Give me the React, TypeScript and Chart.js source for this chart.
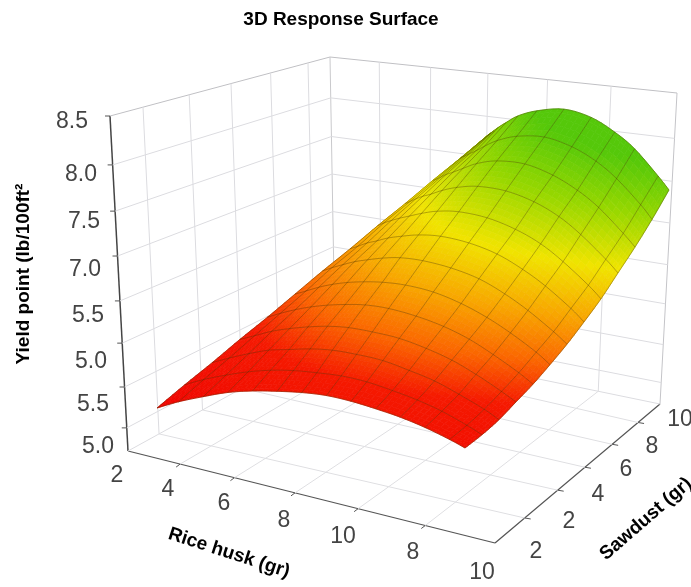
import React, { useEffect, useRef } from "react";
import { Chart, registerables } from "chart.js";

Chart.register(...registerables);

// ---- data ----
const yieldTickLabels = ["5.0", "5.5", "5.0", "5.5", "7.0", "7.5", "8.0", "8.5"];
const riceHuskTickLabels = ["2", "4", "6", "8", "10", "8", "10"];
const sawdustTickLabels = ["2", "2", "4", "6", "8", "10"];

// surface mesh steps (fraction of each surface side)
const riceHuskFront = [0, 0.07, 0.15, 0.23, 0.31, 0.39, 0.47, 0.55, 0.63, 0.71, 0.79, 0.87, 0.95, 1];
const riceHuskBack = [0, 0.006, 0.016, 0.032, 0.058, 0.1, 0.165, 0.27, 0.42, 0.57, 0.7, 0.81, 0.94, 1];
const sawdustSteps = [0, 1 / 12, 2 / 12, 3 / 12, 4 / 12, 5 / 12, 6 / 12, 7 / 12, 8 / 12, 9 / 12, 10 / 12, 11 / 12, 1];

// yield point, one row per sawdust step
const yieldRow0 = [5.55, 5.64, 5.72, 5.79, 5.83, 5.85, 5.86, 5.85, 5.81, 5.75, 5.68, 5.59, 5.48, 5.4];
const yieldRow1 = [5.75, 5.83, 5.9, 5.96, 6.0, 6.02, 6.02, 6.01, 5.97, 5.9, 5.82, 5.72, 5.59, 5.5];
const yieldRow2 = [5.94, 6.01, 6.08, 6.14, 6.17, 6.2, 6.21, 6.19, 6.15, 6.07, 5.98, 5.86, 5.72, 5.62];
const yieldRow3 = [6.14, 6.2, 6.27, 6.32, 6.36, 6.39, 6.4, 6.38, 6.34, 6.26, 6.16, 6.03, 5.87, 5.77];
const yieldRow4 = [6.33, 6.39, 6.45, 6.5, 6.54, 6.57, 6.59, 6.58, 6.53, 6.45, 6.34, 6.2, 6.03, 5.92];
const yieldRow5 = [6.53, 6.58, 6.64, 6.69, 6.73, 6.76, 6.78, 6.78, 6.74, 6.65, 6.53, 6.39, 6.21, 6.09];
const yieldRow6 = [6.73, 6.78, 6.83, 6.88, 6.92, 6.96, 6.99, 6.99, 6.95, 6.87, 6.74, 6.59, 6.39, 6.27];
const yieldRow7 = [6.92, 6.96, 7.01, 7.05, 7.1, 7.14, 7.18, 7.2, 7.17, 7.09, 6.96, 6.81, 6.6, 6.47];
const yieldRow8 = [7.12, 7.16, 7.2, 7.24, 7.28, 7.33, 7.38, 7.41, 7.39, 7.31, 7.19, 7.03, 6.81, 6.68];
const yieldRow9 = [7.31, 7.34, 7.38, 7.42, 7.46, 7.52, 7.58, 7.63, 7.63, 7.56, 7.44, 7.28, 7.05, 6.92];
const yieldRow10 = [7.51, 7.53, 7.56, 7.6, 7.64, 7.7, 7.78, 7.85, 7.87, 7.8, 7.68, 7.53, 7.29, 7.16];
const yieldRow11 = [7.7, 7.72, 7.74, 7.77, 7.81, 7.88, 7.97, 8.06, 8.11, 8.06, 7.95, 7.8, 7.56, 7.42];
const yieldRow12 = [7.9, 7.91, 7.93, 7.96, 8.01, 8.08, 8.18, 8.28, 8.36, 8.33, 8.22, 8.08, 7.83, 7.7];
const yieldRows = [yieldRow0, yieldRow1, yieldRow2, yieldRow3, yieldRow4, yieldRow5, yieldRow6, yieldRow7, yieldRow8, yieldRow9, yieldRow10, yieldRow11, yieldRow12];

// wall and floor grid fractions
const heightFractions = [0.069, 0.191, 0.322, 0.448, 0.582, 0.716, 0.854];
const frontAxisFractions = [0.142, 0.29, 0.455, 0.627, 0.81];
const sideAxisFractions = [0.18, 0.38, 0.545, 0.71, 0.867];
const leftWallFractions = [0.15, 0.36, 0.55, 0.73, 0.9];

// ---- view geometry ----
type P = [number, number];
const A: P = [128, 451];
const B: P = [495, 543];
const C: P = [660, 404];
const D: P = [335, 337];
const At: P = [110, 116];
const Dt: P = [330, 57];
const Ct: P = [677, 93];

const BASE_00: P = [157, 457.5];
const BASE_10: P = [465, 484];
const BASE_11: P = [669, 433];
const BASE_01: P = [488, 396];
const BASE_LEVEL = 5;
const PIXELS_PER_UNIT = 90;
const COLOUR_TILT = 0.5;
const MESH_SUB = 5;

const yieldLabelPos: P[] = [[98, 447], [93, 405], [91, 362], [88, 316], [85, 270], [84, 222], [81, 175], [72, 122]];
const riceLabelPos: P[] = [[117, 476], [168, 490], [224, 504], [284, 521], [343, 537], [413, 553], [482, 573]];
const sawdustLabelPos: P[] = [[536, 552], [569, 522], [598, 495], [626, 470], [652, 447], [680, 420]];

const colorStops: [number, number, number, number][] = [
  [5.4, 238, 0, 0],
  [6.25, 245, 25, 0],
  [6.6, 250, 100, 0],
  [7.0, 248, 165, 0],
  [7.45, 240, 228, 0],
  [7.95, 150, 215, 0],
  [8.4, 85, 200, 10],
];

const lerp = (a: P, b: P, t: number): P => [a[0] + (b[0] - a[0]) * t, a[1] + (b[1] - a[1]) * t];
const pt = (p: P) => ({ x: p[0], y: p[1] });

const ROWS = yieldRows.length;
const COLS = riceHuskFront.length;

// [screen x, screen y, colour value] of one mesh node
function nodeField(c: number, r: number): [number, number, number] {
  const v = sawdustSteps[r];
  const u = riceHuskFront[c] + (riceHuskBack[c] - riceHuskFront[c]) * v;
  const w = yieldRows[r][c];
  const p = lerp(lerp(BASE_00, BASE_10, u), lerp(BASE_01, BASE_11, u), v);
  return [p[0], p[1] - (w - BASE_LEVEL) * PIXELS_PER_UNIT, w + COLOUR_TILT * u];
}
const nodes = yieldRows.map((_, r) => riceHuskFront.map((_, c) => nodeField(c, r)));

const cr = (a: number, b: number, c: number, d: number, t: number) =>
  0.5 * (2 * b + (c - a) * t + (2 * a - 5 * b + 4 * c - d) * t * t + (3 * b - a - 3 * c + d) * t * t * t);
const clampI = (i: number, n: number) => Math.max(0, Math.min(n - 1, i));

// smooth curve through the mesh nodes, for drawing only
function smooth(cf: number, rf: number): [number, number, number] {
  const c0 = Math.min(Math.floor(cf), COLS - 2);
  const r0 = Math.min(Math.floor(rf), ROWS - 2);
  const s = cf - c0;
  const t = rf - r0;
  const out: [number, number, number] = [0, 0, 0];
  for (let k = 0; k < 3; k++) {
    const col: number[] = [];
    for (let j = -1; j <= 2; j++) {
      const row = nodes[clampI(r0 + j, ROWS)];
      col.push(cr(row[clampI(c0 - 1, COLS)][k], row[c0][k], row[c0 + 1][k], row[clampI(c0 + 2, COLS)][k], s));
    }
    out[k] = cr(col[0], col[1], col[2], col[3], t);
  }
  return out;
}

function colorFor(w: number) {
  if (w <= colorStops[0][0]) return `rgb(${colorStops[0][1]},${colorStops[0][2]},${colorStops[0][3]})`;
  for (let i = 1; i < colorStops.length; i++) {
    const a = colorStops[i - 1];
    const b = colorStops[i];
    if (w <= b[0]) {
      const t = (w - a[0]) / (b[0] - a[0]);
      return `rgb(${Math.round(a[1] + (b[1] - a[1]) * t)},${Math.round(a[2] + (b[2] - a[2]) * t)},${Math.round(a[3] + (b[3] - a[3]) * t)})`;
    }
  }
  const l = colorStops[colorStops.length - 1];
  return `rgb(${l[1]},${l[2]},${l[3]})`;
}

function seg(a: P, b: P, color: string, width = 1) {
  return {
    data: [pt(a), pt(b)],
    showLine: true,
    borderColor: color,
    borderWidth: width,
    pointRadius: 0,
    clip: false,
  };
}

function buildDatasets() {
  const mesh: any[] = [];
  const meshColor = "rgba(70,50,0,0.36)";
  for (let r = 0; r < ROWS; r++) {
    const data: { x: number; y: number }[] = [];
    for (let i = 0; i <= (COLS - 1) * MESH_SUB; i++) {
      const n = smooth(i / MESH_SUB, r);
      data.push({ x: n[0], y: n[1] });
    }
    mesh.push({ data, showLine: true, borderColor: meshColor, borderWidth: 1, pointRadius: 0, clip: false });
  }
  for (let c = 0; c < COLS; c++) {
    const data: { x: number; y: number }[] = [];
    for (let i = 0; i <= (ROWS - 1) * MESH_SUB; i++) {
      const n = smooth(c, i / MESH_SUB);
      data.push({ x: n[0], y: n[1] });
    }
    mesh.push({ data, showLine: true, borderColor: meshColor, borderWidth: 1, pointRadius: 0, clip: false });
  }

  const walls: any[] = [];
  const grid = "#dcdce0";
  heightFractions.forEach((z) => {
    walls.push(seg(lerp(A, At, z), lerp(D, Dt, z), grid));
    walls.push(seg(lerp(D, Dt, z), lerp(C, Ct, z), grid));
  });
  leftWallFractions.forEach((s) => walls.push(seg(lerp(A, D, s), lerp(At, Dt, s), grid)));
  frontAxisFractions.forEach((s) => {
    walls.push(seg(lerp(D, C, s), lerp(Dt, Ct, s), grid));
    walls.push(seg(lerp(A, B, s), lerp(D, C, s), "#dfdfe2"));
  });
  sideAxisFractions.forEach((s, i) => {
    walls.push(seg(lerp(A, D, leftWallFractions[i]), lerp(B, C, s), "#dfdfe2"));
  });
  walls.push(seg(D, Dt, "#c9c9cc"));
  walls.push(seg(C, Ct, "#c4c4c8"));
  walls.push(seg(At, Dt, "#c0c0c4"));
  walls.push(seg(Dt, Ct, "#c0c0c4"));
  walls.push(seg(A, D, "#dcdce0"));
  walls.push(seg(D, C, "#dcdce0"));

  const axis = "#555555";
  walls.push(seg(A, At, "#444444", 1.5));
  walls.push(seg(A, B, axis, 1.2));
  walls.push(seg(B, C, axis, 1.2));
  heightFractions.concat([1]).forEach((z) => {
    const p = lerp(A, At, z);
    walls.push(seg([p[0] - 5, p[1]], p, axis));
  });
  frontAxisFractions.forEach((s) => {
    const p = lerp(A, B, s);
    walls.push(seg(p, [p[0] - 4, p[1] + 3], axis));
  });
  sideAxisFractions.forEach((s) => {
    const p = lerp(B, C, s);
    walls.push(seg(p, [p[0] + 6, p[1] + 1], axis));
  });
  return { mesh, walls };
}

const surfacePlugin = {
  id: "surfacePlugin",
  beforeDatasetDraw(chart: any, args: any, opts: any) {
    if (args.index !== opts.firstDrawnMesh) return;
    const { ctx, scales } = chart;
    const sub = MESH_SUB;
    const nc = (COLS - 1) * sub + 1;
    const nr = (ROWS - 1) * sub + 1;
    const fine: [number, number, number][][] = [];
    for (let j = 0; j < nr; j++) {
      const line: [number, number, number][] = [];
      for (let i = 0; i < nc; i++) {
        const n = smooth(i / sub, j / sub);
        line.push([scales.x.getPixelForValue(n[0]), scales.y.getPixelForValue(n[1]), n[2]]);
      }
      fine.push(line);
    }
    ctx.save();
    ctx.lineWidth = 0.7;
    for (let j = nr - 2; j >= 0; j--) {
      for (let i = 0; i < nc - 1; i++) {
        const a = fine[j][i], b = fine[j][i + 1], d = fine[j + 1][i + 1], e = fine[j + 1][i];
        const col = colorFor((a[2] + b[2] + d[2] + e[2]) / 4);
        ctx.fillStyle = col;
        ctx.strokeStyle = col;
        ctx.beginPath();
        ctx.moveTo(a[0], a[1]);
        ctx.lineTo(b[0], b[1]);
        ctx.lineTo(d[0], d[1]);
        ctx.lineTo(e[0], e[1]);
        ctx.closePath();
        ctx.fill();
        ctx.stroke();
      }
    }
    ctx.restore();
  },
};

const labelsPlugin = {
  id: "labelsPlugin",
  afterDraw(chart: any) {
    const { ctx, scales } = chart;
    const put = (text: string, p: P, font: string, color: string, angle = 0) => {
      ctx.save();
      ctx.translate(scales.x.getPixelForValue(p[0]), scales.y.getPixelForValue(p[1]));
      ctx.rotate((angle * Math.PI) / 180);
      ctx.font = font;
      ctx.fillStyle = color;
      ctx.textAlign = "center";
      ctx.textBaseline = "middle";
      ctx.fillText(text, 0, 0);
      ctx.restore();
    };
    const tickFont = '23px "Liberation Sans", Arial, sans-serif';
    const tickColor = "#444444";
    yieldTickLabels.forEach((t, i) => put(t, yieldLabelPos[i], tickFont, tickColor));
    riceHuskTickLabels.forEach((t, i) => put(t, riceLabelPos[i], tickFont, tickColor));
    sawdustTickLabels.forEach((t, i) => put(t, sawdustLabelPos[i], tickFont, tickColor));
    const titleFont = 'bold 19px "Liberation Sans", Arial, sans-serif';
    put("Yield point (lb/100ft\u00B2", [24, 274], titleFont, "#000", -90);
    put("Rice husk (gr)", [229, 553], titleFont, "#000", 18);
    put("Sawdust (gr)", [646, 519], titleFont, "#000", -41);
  },
};

export default function App() {
  const ref = useRef<HTMLCanvasElement | null>(null);
  useEffect(() => {
    if (!ref.current) return;
    const { mesh, walls } = buildDatasets();
    const chart = new Chart(ref.current, {
      type: "scatter",
      data: { datasets: [...mesh, ...walls] },
      plugins: [surfacePlugin, labelsPlugin],
      options: {
        responsive: false,
        animation: false,
        layout: { padding: { right: 9 } },
        scales: {
          x: { type: "linear", display: false, min: 0, max: 682 },
          y: { type: "linear", display: false, min: 38, max: 587, reverse: true },
        },
        plugins: {
          legend: { display: false },
          tooltip: { enabled: false },
          title: {
            display: true,
            text: "3D Response Surface",
            color: "#000",
            font: { family: '"Liberation Sans", Arial, sans-serif', size: 19, weight: "bold", lineHeight: 1.2 },
            padding: { top: 8, bottom: 7.2 },
          },
          surfacePlugin: { firstDrawnMesh: mesh.length - 1 },
        },
      },
    } as any);
    return () => chart.destroy();
  }, []);
  return (
    <canvas
      ref={ref}
      width={691}
      height={587}
      style={{ position: "absolute", left: 0, top: 0, display: "block" }}
    />
  );
}
